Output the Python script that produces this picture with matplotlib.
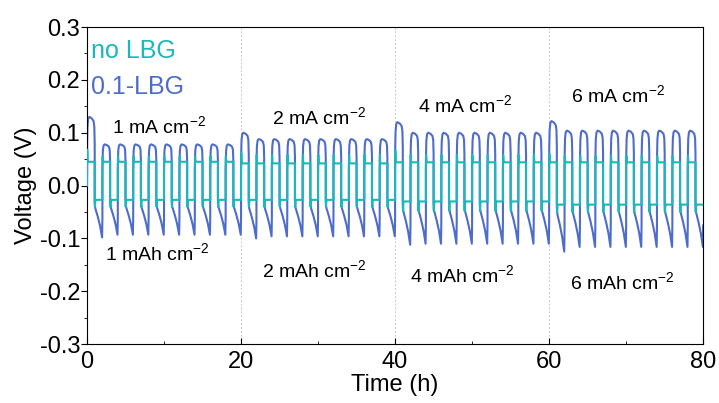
import numpy as np
import matplotlib.pyplot as plt
from matplotlib.ticker import MultipleLocator

plt.rcParams['font.family'] = ['Liberation Sans Narrow', 'Liberation Sans', 'DejaVu Sans']
plt.rcParams['axes.unicode_minus'] = False
plt.rcParams['mathtext.fontset'] = 'custom'
plt.rcParams['mathtext.rm'] = 'Liberation Sans'
plt.rcParams['mathtext.it'] = 'Liberation Sans'

# current density steps, 20 h each, 1 h plating / 1 h stripping
segment_start = [0, 20, 40, 60]
segment_len = 20
half_period = 1.0

# 0.1-LBG (blue): plateau peak, first-cycle peak, minimum per step
blue_peak = [0.078, 0.088, 0.100, 0.104]
blue_first_peak = [0.130, 0.100, 0.120, 0.122]
blue_min = [-0.093, -0.096, -0.110, -0.116]
blue_first_min = [-0.098, -0.100, -0.112, -0.125]

# no LBG (cyan): overshoot and plateau for each half cycle
cyan_bump = [0.055, 0.058, 0.058, 0.056]
cyan_first_bump = [0.068, 0.062, 0.066, 0.060]
cyan_pos = [0.045, 0.042, 0.044, 0.044]
cyan_dip = [-0.040, -0.040, -0.048, -0.050]
cyan_neg = [-0.027, -0.027, -0.030, -0.036]

# shape of one half cycle (fraction of the half period, fraction of the extreme)
blue_pos_t = [0.0, 0.02, 0.06, 0.15, 0.3, 0.6, 0.85, 0.95, 1.0]
blue_pos_v = [0.35, 0.6, 0.85, 0.97, 1.0, 0.98, 0.94, 0.86, 0.6]
blue_neg_t = [0.0, 0.03, 0.1, 0.4, 0.7, 0.88, 0.96, 1.0]
blue_neg_v = [0.30, 0.40, 0.45, 0.60, 0.78, 0.93, 1.0, 0.65]
cyan_t = [0.0, 0.03, 0.08, 0.18, 0.4, 1.0]

labels_top = ['1 mA cm$^{-2}$', '2 mA cm$^{-2}$', '4 mA cm$^{-2}$', '6 mA cm$^{-2}$']
labels_bot = ['1 mAh cm$^{-2}$', '2 mAh cm$^{-2}$', '4 mAh cm$^{-2}$', '6 mAh cm$^{-2}$']
label_x_top = [3.2, 24.0, 43.0, 62.9]
label_y_top = [0.113, 0.130, 0.153, 0.172]
label_x_bot = [2.3, 22.7, 42.0, 62.7]
label_y_bot = [-0.128, -0.160, -0.170, -0.183]

c_cyan = '#1ab8bb'
c_blue = '#4d6ccb'

tb, vb, tc, vc = [], [], [], []
for s, t0 in enumerate(segment_start):
    n_cycles = int(segment_len / (2 * half_period))
    for k in range(n_cycles):
        tp = t0 + 2 * k * half_period
        tn = tp + half_period
        pk = blue_first_peak[s] if k == 0 else blue_peak[s]
        mn = blue_first_min[s] if k == 0 else blue_min[s]
        tb += [tp + f * half_period for f in blue_pos_t]
        vb += [pk * f for f in blue_pos_v]
        tb += [tn + f * half_period for f in blue_neg_t]
        vb += [mn * f for f in blue_neg_v]
        bump = cyan_first_bump[s] if k == 0 else cyan_bump[s]
        tc += [tp + f * half_period for f in cyan_t]
        vc += [cyan_pos[s] * 0.6, bump, cyan_pos[s] * 1.05, cyan_pos[s], cyan_pos[s], cyan_pos[s]]
        tc += [tn + f * half_period for f in cyan_t]
        vc += [cyan_neg[s] * 0.7, cyan_dip[s], cyan_neg[s] * 1.1, cyan_neg[s], cyan_neg[s], cyan_neg[s]]

# the cell starts from open circuit at 0 V
tb[0], vb[0] = 0.0, 0.0
tc[0], vc[0] = 0.0, 0.0

fig, ax = plt.subplots(figsize=(7.19, 4.03), dpi=100)
fig.subplots_adjust(left=0.121, right=0.978, top=0.933, bottom=0.146)

ax.plot(tc, vc, color=c_cyan, lw=1.5, zorder=3)
ax.plot(tb, vb, color=c_blue, lw=1.5, zorder=2)

for x in [20, 40, 60]:
    ax.axvline(x, color='#c8c8c8', lw=0.7, ls=(0, (2, 2)), zorder=1)

for i in range(4):
    ax.text(label_x_top[i], label_y_top[i], labels_top[i], fontsize=14,
            family=['Liberation Sans', 'DejaVu Sans'], va='center')
    ax.text(label_x_bot[i], label_y_bot[i], labels_bot[i], fontsize=14,
            family=['Liberation Sans', 'DejaVu Sans'], va='center')

ax.text(0.5, 0.255, 'no LBG', color=c_cyan, fontsize=18,
        family=['Liberation Sans', 'DejaVu Sans'], va='center')
ax.text(0.5, 0.187, '0.1-LBG', color=c_blue, fontsize=18,
        family=['Liberation Sans', 'DejaVu Sans'], va='center')

ax.set_xlim(0, 80)
ax.set_ylim(-0.3, 0.3)
ax.xaxis.set_major_locator(MultipleLocator(20))
ax.xaxis.set_minor_locator(MultipleLocator(10))
ax.yaxis.set_major_locator(MultipleLocator(0.1))
ax.yaxis.set_minor_locator(MultipleLocator(0.05))
ax.yaxis.set_major_formatter(plt.FuncFormatter(lambda v, p: f'{v:.1f}'))
ax.tick_params(axis='x', which='both', direction='in', labelsize=17, pad=5)
ax.tick_params(axis='y', which='both', direction='out', labelsize=17, pad=1)
ax.tick_params(which='major', length=4)
ax.tick_params(which='minor', length=2.5)
ax.set_xlabel('Time (h)', fontsize=17, labelpad=1)
ax.set_ylabel('Voltage (V)', fontsize=17, labelpad=2)

fig.savefig('out.png', dpi=100)
